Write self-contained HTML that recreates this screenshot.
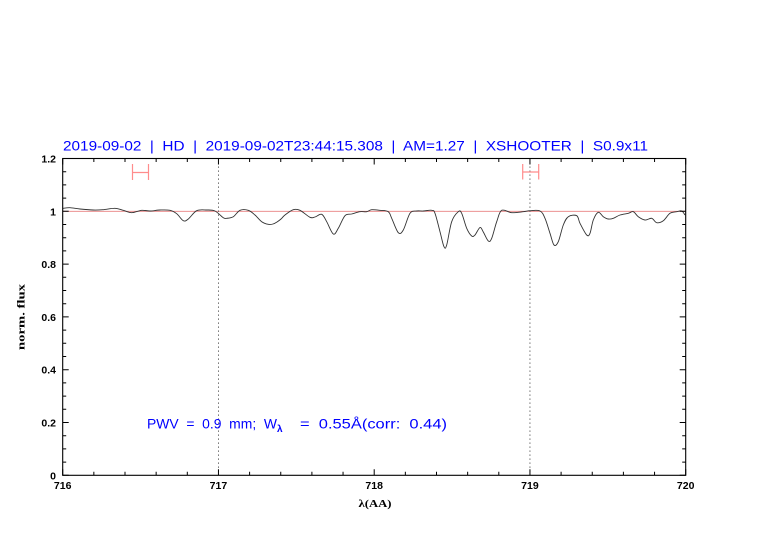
<!DOCTYPE html>
<html><head><meta charset="utf-8"><style>
html,body{margin:0;padding:0;background:#fff;}
svg{display:block;}
text{font-family:"Liberation Sans",sans-serif;}
</style></head><body>
<svg width="782" height="542" viewBox="0 0 782 542" xmlns="http://www.w3.org/2000/svg">
<rect width="782" height="542" fill="#fff"/>
<!-- title -->
<text x="63" y="150.5" font-size="14" fill="#0000ff" textLength="585" lengthAdjust="spacingAndGlyphs" style="white-space:pre">2019-09-02  |  HD  |  2019-09-02T23:44:15.308  |  AM=1.27  |  XSHOOTER  |  S0.9x11</text>

<!-- reference line at 1 -->
<line x1="62.7" y1="211.3" x2="685.7" y2="211.3" stroke="#e88080" stroke-width="0.9"/>

<!-- dotted verticals -->
<line x1="218.45" y1="158.5" x2="218.45" y2="475.3" stroke="#444" stroke-width="0.9" stroke-dasharray="1.2,2.8"/>
<line x1="529.95" y1="158.5" x2="529.95" y2="475.3" stroke="#444" stroke-width="0.9" stroke-dasharray="1.2,2.8"/>

<!-- spectrum -->
<polyline id="spec" fill="none" stroke="#333" stroke-width="0.9" stroke-linejoin="round" points="62.7,208.3 70,207.7 80,209 93.3,210 103,209.7 115,208.3 123.3,210.3 131.7,212.7 141.7,210.3 150,211 160,210 170,210.3 176.7,213.7 183.3,220.7 188.3,219 196.7,210.7 206.7,210 215,211 223.3,217.7 226.7,218.3 233.3,216.7 240,210.3 248.3,210.3 255,215 261.7,221.7 268.3,224.3 273,224 277,222 281,219 285,215 293.3,209.7 300,210.3 310,217.3 315,217 321.7,214.3 326.7,221.7 333.3,234 338.3,228.3 345,215.7 351.7,214 360,211.7 366.7,211.7 371.7,209.7 380,210.3 388.3,211.7 391.7,218.3 398.3,232.7 403.3,230 410,213.3 416.7,211 423.3,211 431.7,210.3 435,213.3 440,231.7 444,246.7 446.7,245 451.7,221.7 458.3,211.7 461.7,213.3 466.7,228.3 471.7,236 475,235 480,227.5 483.3,232 488.3,241 491.7,238.3 496.7,221.7 501.7,210.3 511.7,212.7 523.3,211.7 530,210.7 540,211 545,218.3 550,233.3 554,245 558.3,241.7 563.3,225 568.3,216.7 576.7,215.7 580,223.3 586.7,235 590,233.3 593.3,220 598.3,212.3 603.3,216.7 608.3,219 613.3,218.3 620,215 628.3,213.3 633.3,211.7 638.3,216.7 645,220 651.7,218.3 656.7,222.7 663.3,220.7 670,213.3 676.7,211.7 681.7,211 685,215"/>

<!-- red error bars -->
<g stroke="#ff8c8c" stroke-width="1.2" fill="none">
<path d="M132.5 172.5 H148.5 M132.5 164 V180 M148.5 164 V180"/>
<path d="M522.7 172 H538.7 M522.7 164 V179.5 M538.7 164 V179.5"/>
</g>

<!-- frame -->
<rect x="62.7" y="158.5" width="623" height="316.8" fill="none" stroke="#000" stroke-width="1.1"/>

<!-- ticks -->
<g stroke="#000" stroke-width="1" fill="none">
<path d="M62.7 475.3v-6 M93.85 475.3v-3.5 M125 475.3v-3.5 M156.15 475.3v-3.5 M187.3 475.3v-3.5 M218.45 475.3v-6 M249.6 475.3v-3.5 M280.75 475.3v-3.5 M311.9 475.3v-3.5 M343.05 475.3v-3.5 M374.2 475.3v-6 M405.35 475.3v-3.5 M436.5 475.3v-3.5 M467.65 475.3v-3.5 M498.8 475.3v-3.5 M529.95 475.3v-6 M561.1 475.3v-3.5 M592.25 475.3v-3.5 M623.4 475.3v-3.5 M654.55 475.3v-3.5 M685.7 475.3v-6"/>
<path d="M62.7 158.5v6 M93.85 158.5v3.5 M125 158.5v3.5 M156.15 158.5v3.5 M187.3 158.5v3.5 M218.45 158.5v6 M249.6 158.5v3.5 M280.75 158.5v3.5 M311.9 158.5v3.5 M343.05 158.5v3.5 M374.2 158.5v6 M405.35 158.5v3.5 M436.5 158.5v3.5 M467.65 158.5v3.5 M498.8 158.5v3.5 M529.95 158.5v6 M561.1 158.5v3.5 M592.25 158.5v3.5 M623.4 158.5v3.5 M654.55 158.5v3.5 M685.7 158.5v6"/>
<path d="M62.7 475.3h6 M62.7 462.1h3.5 M62.7 448.9h3.5 M62.7 435.7h3.5 M62.7 422.5h6 M62.7 409.3h3.5 M62.7 396.1h3.5 M62.7 382.9h3.5 M62.7 369.7h6 M62.7 356.5h3.5 M62.7 343.3h3.5 M62.7 330.1h3.5 M62.7 316.9h6 M62.7 303.7h3.5 M62.7 290.5h3.5 M62.7 277.3h3.5 M62.7 264.1h6 M62.7 250.9h3.5 M62.7 237.7h3.5 M62.7 224.5h3.5 M62.7 211.3h6 M62.7 198.1h3.5 M62.7 184.9h3.5 M62.7 171.7h3.5 M62.7 158.5h6"/>
<path d="M685.7 475.3h-6 M685.7 462.1h-3.5 M685.7 448.9h-3.5 M685.7 435.7h-3.5 M685.7 422.5h-6 M685.7 409.3h-3.5 M685.7 396.1h-3.5 M685.7 382.9h-3.5 M685.7 369.7h-6 M685.7 356.5h-3.5 M685.7 343.3h-3.5 M685.7 330.1h-3.5 M685.7 316.9h-6 M685.7 303.7h-3.5 M685.7 290.5h-3.5 M685.7 277.3h-3.5 M685.7 264.1h-6 M685.7 250.9h-3.5 M685.7 237.7h-3.5 M685.7 224.5h-3.5 M685.7 211.3h-6 M685.7 198.1h-3.5 M685.7 184.9h-3.5 M685.7 171.7h-3.5 M685.7 158.5h-6"/>
</g>

<!-- y tick labels -->
<g font-size="10.5" font-weight="bold" fill="#000" text-anchor="end">
<text x="56" y="479.3">0</text>
<text x="56" y="426.5">0.2</text>
<text x="56" y="373.7">0.4</text>
<text x="56" y="320.9">0.6</text>
<text x="56" y="268.1">0.8</text>
<text x="56" y="215.3">1</text>
<text x="56" y="162.5">1.2</text>
</g>
<!-- x tick labels -->
<g font-size="10.5" font-weight="bold" fill="#000" text-anchor="middle">
<text x="62.7" y="489">716</text>
<text x="218.45" y="489">717</text>
<text x="374.2" y="489">718</text>
<text x="529.95" y="489">719</text>
<text x="685.7" y="489">720</text>
</g>

<!-- axis labels -->
<text x="375" y="507" font-size="10.5" font-weight="bold" text-anchor="middle" style="font-family:'Liberation Serif',serif" textLength="33" lengthAdjust="spacingAndGlyphs">λ(AA)</text>
<text transform="translate(24.5,317) rotate(-90)" x="0" y="0" font-size="11" font-weight="bold" text-anchor="middle" style="font-family:'Liberation Serif',serif" textLength="66" lengthAdjust="spacingAndGlyphs">norm. flux</text>

<!-- PWV annotation -->
<g fill="#0000ff" font-size="14">
<text x="147" y="428.3" textLength="130" lengthAdjust="spacingAndGlyphs" style="white-space:pre">PWV  =  0.9  mm;  W</text>
<text x="277" y="432" font-size="10" font-weight="bold">λ</text>
<text x="300" y="428.3" textLength="147" lengthAdjust="spacingAndGlyphs" style="white-space:pre">=  0.55Å(corr:  0.44)</text>
</g>
</svg>
<script>
(function(){
  var pl=document.getElementById('spec');
  if(!pl) return;
  var nums=pl.getAttribute('points').trim().split(/[\s,]+/).map(Number);
  var p=[];for(var i=0;i<nums.length;i+=2)p.push([nums[i],nums[i+1]]);
  var d='M'+p[0][0]+' '+p[0][1];
  for(var i=0;i<p.length-1;i++){
    var p0=p[i>0?i-1:0],p1=p[i],p2=p[i+1],p3=p[i+2<p.length?i+2:p.length-1];
    var c1x=p1[0]+(p2[0]-p0[0])/6,c1y=p1[1]+(p2[1]-p0[1])/6;
    var c2x=p2[0]-(p3[0]-p1[0])/6,c2y=p2[1]-(p3[1]-p1[1])/6;
    d+=' C'+c1x.toFixed(2)+' '+c1y.toFixed(2)+' '+c2x.toFixed(2)+' '+c2y.toFixed(2)+' '+p2[0]+' '+p2[1];
  }
  var path=document.createElementNS('http://www.w3.org/2000/svg','path');
  path.setAttribute('d',d);path.setAttribute('fill','none');
  path.setAttribute('stroke','#333');path.setAttribute('stroke-width','0.9');
  pl.parentNode.replaceChild(path,pl);
})();
</script>
</body></html>
